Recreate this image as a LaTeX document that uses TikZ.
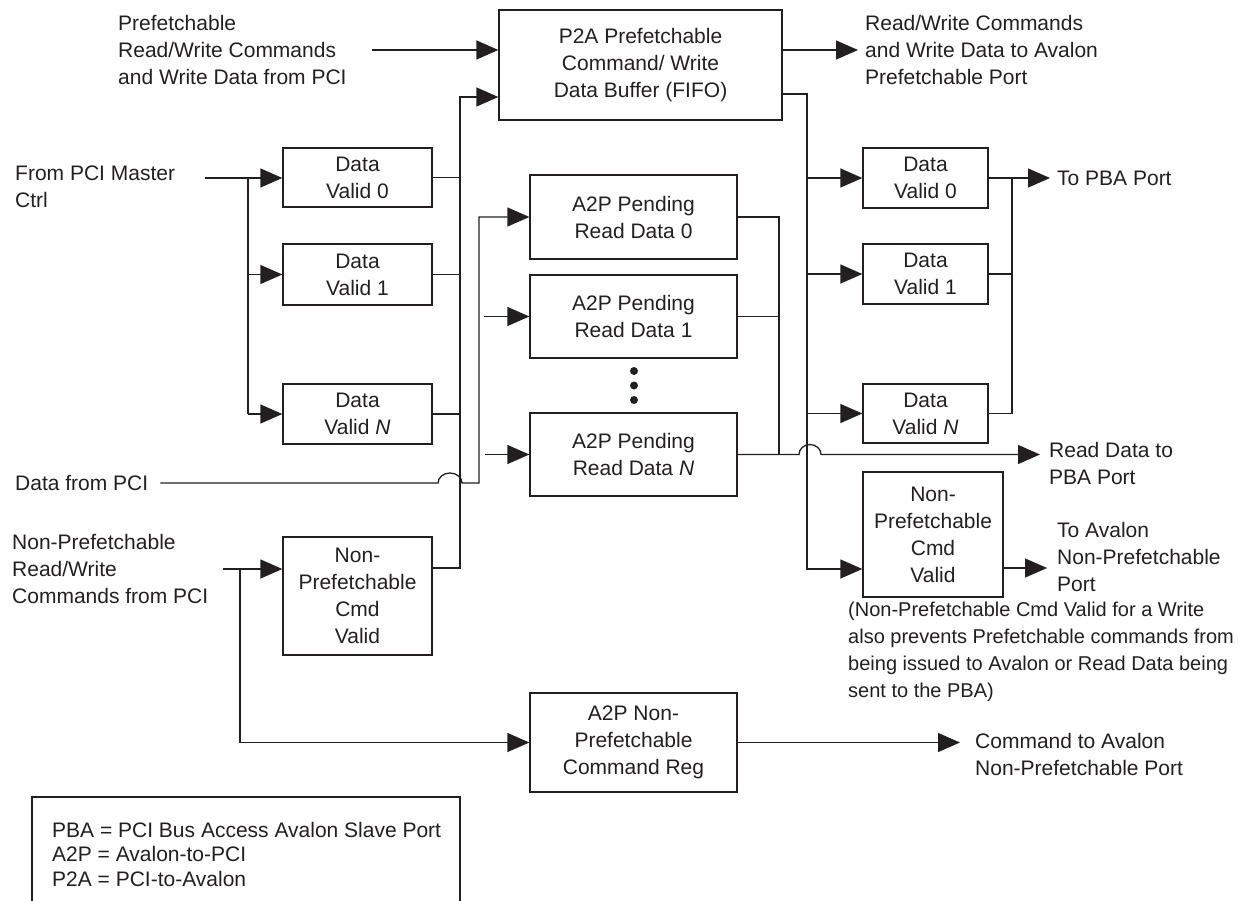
\documentclass[tikz,border=0pt]{standalone}
\usepackage{fontspec}
\setmainfont{Liberation Sans}
\usetikzlibrary{arrows.meta}
\definecolor{ink}{HTML}{231F20}
\begin{document}
\begin{tikzpicture}[x=1pt,y=-1pt,
  every node/.style={font=\fontsize{21}{27}\selectfont, text=ink, inner sep=0pt},
  box/.style={draw=ink, line width=1.3pt, align=center},
  lbl/.style={align=left, anchor=west},
  wire/.style={draw=ink, line width=1.3pt},
  arr/.style={wire, -{Triangle[length=22pt,width=19pt]}},
  dot/.style={circle, fill=ink, minimum size=8pt, inner sep=0pt}
]
\useasboundingbox (0,0) rectangle (1241,901);

% boxes
\node[box, minimum width=283pt, minimum height=110pt] (p2a) at (640.5,65) {P2A Prefetchable\\Command/ Write\\Data Buffer (FIFO)};
\node[box, minimum width=149pt, minimum height=59pt] (ldv0) at (357.5,177.5) {Data\\Valid 0};
\node[box, minimum width=149pt, minimum height=61pt] (ldv1) at (357.5,274.5) {Data\\Valid 1};
\node[box, minimum width=149pt, minimum height=60pt] (ldvn) at (357.5,414) {Data\\Valid \textit{N}};
\node[box, minimum width=149pt, minimum height=118pt] (lnp) at (357.5,596) {Non-\\Prefetchable\\Cmd\\Valid};
\node[box, minimum width=207pt, minimum height=84pt] (a2p0) at (633.5,217) {A2P Pending\\Read Data 0};
\node[box, minimum width=207pt, minimum height=83pt] (a2p1) at (633.5,316.5) {A2P Pending\\Read Data 1};
\node[box, minimum width=207pt, minimum height=83pt] (a2pn) at (633.5,454.5) {A2P Pending\\Read Data \textit{N}};
\node[box, minimum width=207pt, minimum height=99pt] (a2pnp) at (633.5,742.5) {A2P Non-\\Prefetchable\\Command Reg};
\node[box, minimum width=125pt, minimum height=60pt] (rdv0) at (925.5,178) {Data\\Valid 0};
\node[box, minimum width=125pt, minimum height=60pt] (rdv1) at (925.5,274) {Data\\Valid 1};
\node[box, minimum width=125pt, minimum height=59pt] (rdvn) at (925.5,413.5) {Data\\Valid \textit{N}};
\node[box, minimum width=140pt, minimum height=125pt] (rnp) at (933,534.5) {Non-\\Prefetchable\\Cmd\\Valid};

% dots
\node[dot] (d1) at (634,371) {};
\node[dot] (d2) at (634,385.5) {};
\node[dot] (d3) at (634,400) {};

% labels
\node[lbl] (tl) at (118,50) {Prefetchable\\Read/Write Commands\\and Write Data from PCI};
\node[lbl] (tr) at (865,50) {Read/Write Commands\\and Write Data to Avalon\\Prefetchable Port};
\node[lbl] (mct) at (15,187) {From PCI Master\\Ctrl};
\node[lbl] (dpci) at (15,483) {Data from PCI};
\node[lbl] (npc) at (12,569) {Non-Prefetchable\\Read/Write\\Commands from PCI};
\node[lbl] (pba) at (1057,178) {To PBA Port};
\node[lbl] (rdt) at (1049,463) {Read Data to\\PBA Port};
\node[lbl] (tav) at (1057,557) {To Avalon\\Non-Prefetchable\\Port};
\node[lbl] (cav) at (975,754) {Command to Avalon\\Non-Prefetchable Port};
\node[lbl, anchor=north west, font=\fontsize{20}{27}\selectfont] (note) at (848,602) {(Non-Prefetchable Cmd Valid for a Write\\also prevents Prefetchable commands from\\being issued to Avalon or Read Data being\\sent to the PBA)};

% legend
\draw[wire] (32,901) -- (32,797) -- (460,797) -- (460,901);
\node[lbl, anchor=north west, font=\fontsize{21}{24.5}\selectfont] (leg) at (52,822) {PBA = PCI Bus Access Avalon Slave Port\\A2P = Avalon-to-PCI\\P2A = PCI-to-Avalon};

% top connectors
\coordinate (tla) at (372,50);
\draw[arr] (tla) -- (p2a.west |- tla);
\coordinate (tra) at (858,50);
\draw[arr] (p2a.east |- tra) -- (tra);

% left data-valid bus into P2A
\coordinate (cb) at (460,97);
\coordinate (lnpo) at (432,568);
\draw[arr] (lnpo) -- (lnpo -| cb) -- (cb) -- (p2a.west |- cb);
\draw[wire] (ldv0.east) -- (ldv0.east -| cb);
\draw[wire] (ldv1.east) -- (ldv1.east -| cb);
\draw[wire] (ldvn.east) -- (ldvn.east -| cb);

% from PCI master ctrl
\coordinate (mcs) at (205,178);
\coordinate (mcj) at (248,178);
\draw[wire] (mcs) -- (mcj) -- (mcj |- ldvn.west);
\draw[arr] (mcj) -- (mcj -| ldv0.west);
\draw[arr] (mcj |- ldv1.west) -- (ldv1.west);
\draw[arr] (mcj |- ldvn.west) -- (ldvn.west);

% data from PCI
\coordinate (dpj) at (479,483);
\draw[arr] ([xshift=12pt]dpci.east) -- (438,483) arc[start angle=180,end angle=0,x radius=12pt,y radius=10pt] -- (dpj) |- (a2p0.west);
\coordinate (s1) at (484,316.5);
\draw[arr] (s1) -- (a2p1.west);
\coordinate (s2) at (485,454.5);
\draw[arr] (s2) -- (a2pn.west);

% A2P outputs
\coordinate (rb) at (779,217);
\draw[wire] (a2p0.east) -- (rb) -- (rb |- a2pn.east);
\draw[wire] (a2p1.east) -- (a2p1.east -| rb);
\coordinate (rdo) at (1040,454.5);
\draw[arr] (a2pn.east) -- (799,454.5) arc[start angle=180,end angle=0,x radius=11pt,y radius=10pt] -- (rdo);

% P2A right column
\coordinate (pc) at (807,94);
\coordinate (pcb) at (807,569);
\draw[arr] (p2a.east |- pc) -- (pc) -- (pcb) -- (pcb -| rnp.west);
\draw[arr] (pc |- rdv0.west) -- (rdv0.west);
\draw[arr] (pc |- rdv1.west) -- (rdv1.west);
\draw[arr] (pc |- rdvn.west) -- (rdvn.west);

% right data valid outputs
\coordinate (ob) at (1012,178);
\coordinate (pbat) at (1050,178);
\draw[arr] (rdv0.east) -- (pbat);
\draw[wire] (ob) -- (ob |- rdvn.east);
\draw[wire] (rdv1.east) -- (rdv1.east -| ob);
\draw[wire] (rdvn.east) -- (rdvn.east -| ob);

% right NP output
\coordinate (rnpo) at (1003,568);
\coordinate (tavt) at (1047,568);
\draw[arr] (rnpo) -- (tavt);

% non-prefetchable inputs
\coordinate (npi) at (223,569);
\coordinate (npj) at (240,569);
\draw[arr] (npi) -- (npi -| lnp.west);
\draw[arr] (npj) |- (a2pnp.west);
\coordinate (cavt) at (960,742.5);
\draw[arr] (a2pnp.east) -- (cavt);
\end{tikzpicture}
\end{document}
